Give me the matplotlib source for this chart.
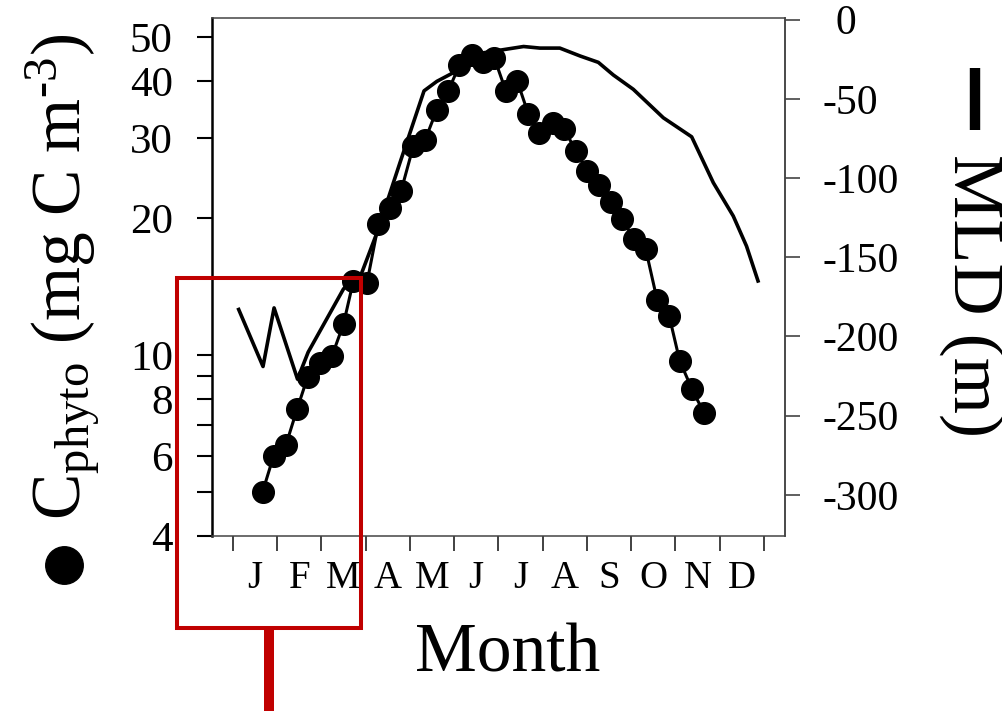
import matplotlib
matplotlib.use('Agg')
import matplotlib.pyplot as plt
from matplotlib.ticker import FixedLocator, FixedFormatter, NullLocator
from matplotlib.lines import Line2D
from matplotlib.patches import Rectangle

plt.rcParams['font.family'] = ['Liberation Serif', 'DejaVu Serif']
plt.rcParams['mathtext.fontset'] = 'custom'
plt.rcParams['mathtext.rm'] = 'Liberation Serif'
plt.rcParams['mathtext.it'] = 'Liberation Serif:italic'
plt.rcParams['axes.unicode_minus'] = False

# ---- data ----
months = ['J', 'F', 'M', 'A', 'M', 'J', 'J', 'A', 'S', 'O', 'N', 'D']

cphyto_month = [0.67, 0.92, 1.20, 1.45, 1.69, 1.97, 2.24, 2.50, 2.72, 3.03,
                3.29, 3.55, 3.80, 4.08, 4.34, 4.61, 4.87, 5.12, 5.40, 5.65,
                5.91, 6.17, 6.43, 6.68, 6.93, 7.23, 7.49, 7.76, 8.01, 8.27,
                8.54, 8.80, 9.06, 9.33, 9.59, 9.86, 10.10, 10.38, 10.65]
cphyto_value = [5.0, 6.0, 6.35, 7.6, 8.95, 9.6, 9.95, 11.7, 14.5, 14.4,
                19.4, 21.0, 22.9, 28.8, 29.6, 34.6, 38.1, 43.3, 45.7, 44.0,
                44.9, 38.0, 39.9, 33.8, 30.7, 32.3, 31.3, 28.0, 25.4, 23.6,
                21.7, 19.9, 18.0, 17.1, 13.2, 12.2, 9.7, 8.4, 7.45]

mld_month = [0.13, 0.68, 0.93, 1.46, 1.70, 2.10, 2.50, 2.91, 3.25, 3.78,
             4.08, 4.32, 4.61, 4.95, 5.29, 5.66, 6.11, 6.57, 6.94, 7.39,
             7.85, 8.26, 8.60, 9.05, 9.73, 10.37, 10.86, 11.31, 11.61, 11.87]
mld_depth = [-183, -219, -182, -227, -210, -190, -170, -160, -135, -90,
             -65, -45, -39, -34, -24, -21, -19, -17, -18, -18,
             -23, -27, -35, -44, -62, -74, -103, -124, -143, -165]

left_ticks = [4, 5, 6, 7, 8, 9, 10, 20, 30, 40, 50]
left_labels = ['4', '', '6', '', '8', '', '10', '20', '30', '40', '50']
right_ticks = [0, -50, -100, -150, -200, -250, -300]
right_labels = ['\u20040', '-50', '-100', '-150', '-200', '-250', '-300']

# ---- figure ----
W, H = 1003, 711
fig = plt.figure(figsize=(W / 100, H / 100), dpi=100)
ax = fig.add_axes([211.7 / W, 1 - 536 / H, (785 - 211.7) / W, (536 - 18) / H])

ax.set_yscale('log')
ax.set_ylim(4, 55)
ax.set_xlim(-0.48, 12.48)
ax.plot(cphyto_month, cphyto_value, '-o', color='black', lw=2.2, ms=15.6, zorder=3)

ax.yaxis.set_major_locator(FixedLocator(left_ticks))
ax.yaxis.set_major_formatter(FixedFormatter(left_labels))
ax.yaxis.set_minor_locator(NullLocator())
ax.tick_params(axis='y', which='major', direction='out', length=11, width=1.5,
               labelsize=31, pad=17, colors='black')

ax.xaxis.set_major_locator(FixedLocator(list(range(13))))
ax.xaxis.set_major_formatter(FixedFormatter([''] * 13))
ax.xaxis.set_minor_locator(FixedLocator([i + 0.5 for i in range(12)]))
ax.xaxis.set_minor_formatter(FixedFormatter(months))
ax.tick_params(axis='x', which='major', direction='out', length=11, width=1.3,
               color='#333333')
ax.tick_params(axis='x', which='minor', length=0, labelsize=28, pad=17)

ax.spines['left'].set_linewidth(1.8)
ax.spines['left'].set_color('black')
for s in ['top', 'bottom', 'right']:
    ax.spines[s].set_linewidth(1.1)
    ax.spines[s].set_color('#444444')

ax2 = ax.twinx()
ax2.set_ylim(-326, 1)
ax2.plot(mld_month, mld_depth, color='black', lw=2.6, zorder=2)
ax2.yaxis.set_major_locator(FixedLocator(right_ticks))
ax2.yaxis.set_major_formatter(FixedFormatter(right_labels))
ax2.yaxis.set_minor_locator(NullLocator())
ax2.tick_params(axis='y', which='major', direction='out', length=11, width=1.2,
                labelsize=30, pad=16, color='#444444')
for s in ['top', 'bottom', 'left']:
    ax2.spines[s].set_visible(False)
ax2.spines['right'].set_linewidth(1.1)
ax2.spines['right'].set_color('#444444')

# ---- labels ----
fig.text(508 / W, 1 - 671 / H, 'Month', fontsize=50, ha='center', va='baseline')
fig.text(63 / W, 1 - 277 / H, r'$\mathrm{C_{phyto}\ (mg\ C\ m^{\text{-}3})}$',
         fontsize=50, rotation=90, ha='center', va='center')
fig.add_artist(Line2D([64 / W], [1 - 565 / H], transform=fig.transFigure,
                      marker='o', ms=27, color='black', linestyle='none'))
fig.text(972 / W, 1 - 296 / H, 'MLD (m)', fontsize=52, rotation=270,
         ha='center', va='center')
fig.add_artist(Line2D([975 / W, 975 / W], [1 - 68 / H, 1 - 130 / H],
                      transform=fig.transFigure, lw=7.5, color='black',
                      solid_capstyle='butt'))

# ---- red annotation box ----
red = '#c00000'
fig.add_artist(Rectangle((176.7 / W, 1 - 628.3 / H), (360.7 - 176.7) / W,
                         (628.3 - 278.3) / H, fill=False, ec=red, lw=2.9,
                         transform=fig.transFigure, zorder=10))
fig.add_artist(Line2D([269.3 / W, 269.3 / W], [1 - 628.3 / H, 0],
                      transform=fig.transFigure, lw=7.2, color=red,
                      solid_capstyle='butt', zorder=10))

fig.savefig('out.png', dpi=100)
